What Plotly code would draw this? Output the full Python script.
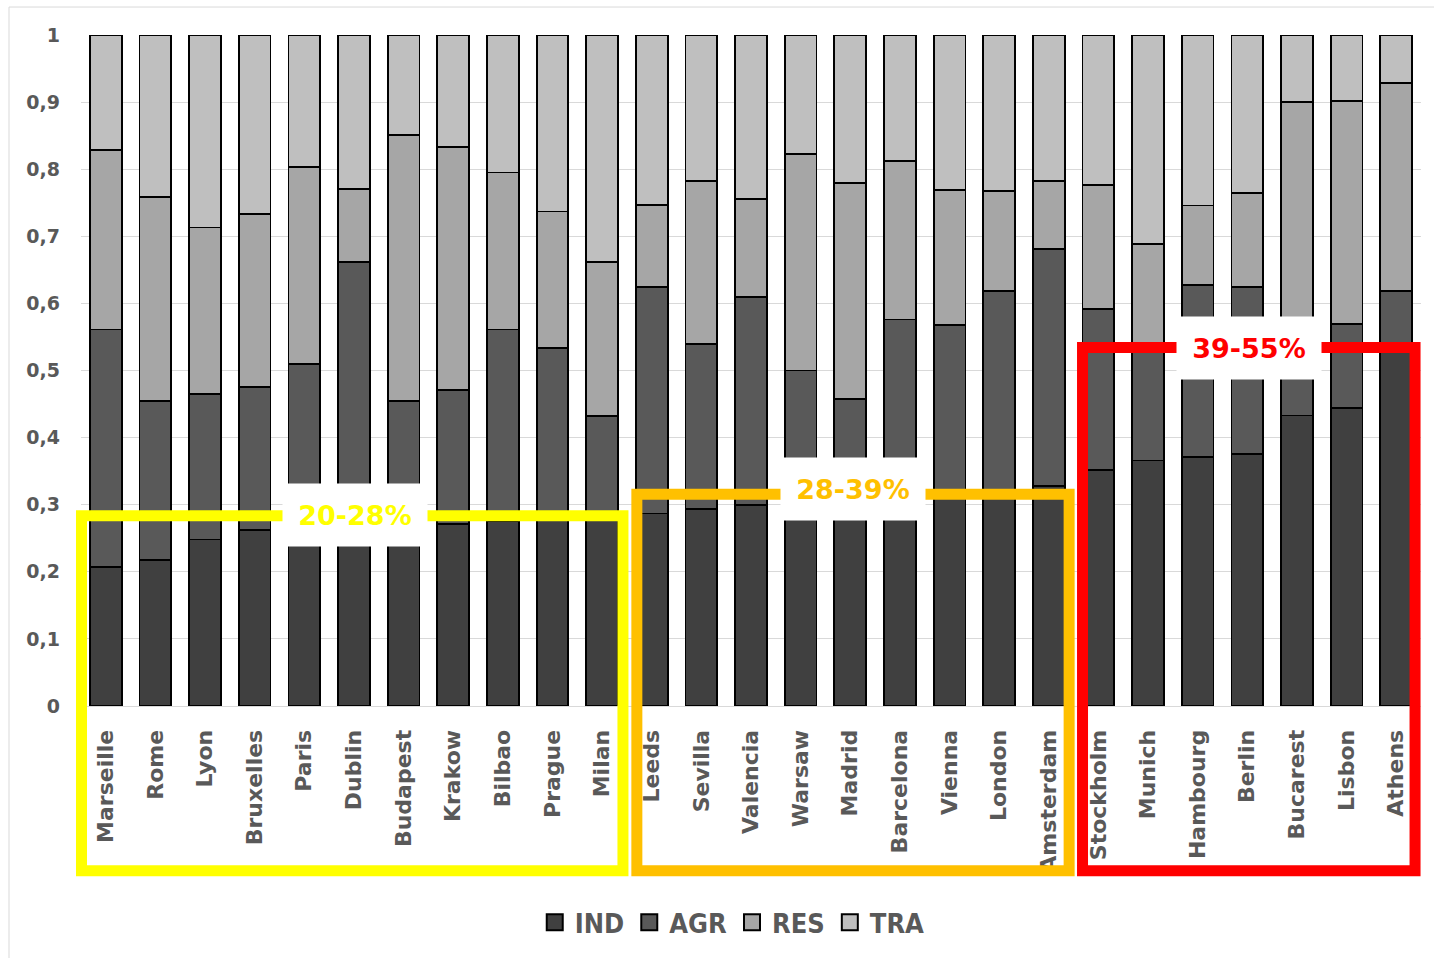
import plotly.graph_objects as go

# Cities, ordered by industry share
cities = ["Marseille", "Rome", "Lyon", "Bruxelles", "Paris", "Dublin", "Budapest",
          "Krakow", "Bilbao", "Prague", "Milan", "Leeds", "Sevilla", "Valencia",
          "Warsaw", "Madrid", "Barcelona", "Vienna", "London", "Amsterdam",
          "Stockholm", "Munich", "Hambourg", "Berlin", "Bucarest", "Lisbon", "Athens"]

# Share of each sector (stacked to 1)
ind = [0.207, 0.218, 0.248, 0.262, 0.265, 0.268, 0.270, 0.271, 0.275, 0.277, 0.280,
       0.287, 0.294, 0.299, 0.302, 0.305, 0.309, 0.313, 0.318, 0.328,
       0.352, 0.366, 0.371, 0.375, 0.433, 0.444, 0.535]
agr = [0.354, 0.237, 0.217, 0.213, 0.245, 0.394, 0.185, 0.200, 0.286, 0.257, 0.152,
       0.337, 0.246, 0.310, 0.198, 0.153, 0.267, 0.255, 0.300, 0.353,
       0.240, 0.169, 0.257, 0.250, 0.107, 0.125, 0.083]
res = [0.268, 0.303, 0.248, 0.258, 0.293, 0.109, 0.396, 0.362, 0.234, 0.203, 0.230,
       0.123, 0.243, 0.147, 0.323, 0.322, 0.236, 0.201, 0.150, 0.102,
       0.185, 0.154, 0.118, 0.139, 0.360, 0.333, 0.310]
tra = [0.171, 0.242, 0.287, 0.267, 0.197, 0.229, 0.149, 0.167, 0.205, 0.263, 0.338,
       0.253, 0.217, 0.244, 0.177, 0.220, 0.188, 0.231, 0.232, 0.217,
       0.223, 0.311, 0.254, 0.236, 0.100, 0.098, 0.072]

series_names = ["IND", "AGR", "RES", "TRA"]
series_colors = ["#404040", "#595959", "#a6a6a6", "#bfbfbf"]

# y ticks with comma decimals
y_tickvals = [0, 0.1, 0.2, 0.3, 0.4, 0.5, 0.6, 0.7, 0.8, 0.9, 1]
y_ticktext = ["0", "0,1", "0,2", "0,3", "0,4", "0,5", "0,6", "0,7", "0,8", "0,9", "1"]

# Industry-share groups: label, first/last category edge, top of frame (in y units), colour
groups = [
    ("20-28%", -0.49, 10.42, 0.2835, "#FFFF00"),
    ("28-39%", 10.70, 19.41, 0.3155, "#FFC000"),
    ("39-55%", 19.68, 26.38, 0.5342, "#FF0000"),
]
group_label_x = [0.2045, 0.5761, 0.8716]
group_label_y = [0.284, 0.3229, 0.5335]

W, H = 1434, 958
ML, MR, MT, MB = 81, 13, 35, 251
plot_w = W - ML - MR
plot_h = H - MT - MB
n = len(cities)


def cat_to_paper(c):
    return (c + 0.5) / n


fig = go.Figure()
for name, vals, col in zip(series_names, [ind, agr, res, tra], series_colors):
    fig.add_trace(go.Bar(
        x=cities, y=vals, name=name, legendgroup=name, showlegend=False,
        marker=dict(color=col, line=dict(color="#000000", width=1.8)),
    ))
# legend keys: square swatches with a black outline
for name, col in zip(series_names, series_colors):
    fig.add_trace(go.Scatter(
        x=[None], y=[None], mode="markers", name=name, legendgroup=name,
        marker=dict(symbol="square", size=20, color=col, line=dict(color="#000000", width=2)),
    ))

shapes = []
# light chart border
shapes.append(dict(type="rect", xref="paper", yref="paper",
                   x0=(9 - ML) / plot_w, x1=(W + 10 - ML) / plot_w,
                   y0=(H - MB - (H + 10)) / plot_h, y1=(H - MB - 7) / plot_h,
                   line=dict(color="#d9d9d9", width=1), layer="below"))

frame_bottom = (707 - 872) / plot_h
annotations = []
for (label, c0, c1, top, col), lx, ly in zip(groups, group_label_x, group_label_y):
    shapes.append(dict(type="rect", xref="paper", yref="paper",
                       x0=cat_to_paper(c0), x1=cat_to_paper(c1),
                       y0=frame_bottom, y1=top,
                       line=dict(color=col, width=11), layer="above"))
    annotations.append(dict(xref="paper", yref="paper", x=lx, y=ly,
                            text=f"<b>{label}</b>", showarrow=False,
                            xanchor="center", yanchor="middle",
                            bgcolor="#ffffff", width=144, height=62, borderpad=0,
                            font=dict(family="DejaVu Sans", size=27, color=col)))

fig.update_layout(
    width=W, height=H,
    barmode="stack", bargap=0.36,
    plot_bgcolor="#ffffff", paper_bgcolor="#ffffff",
    margin=dict(l=ML, r=MR, t=MT, b=MB),
    showlegend=True,
    legend=dict(orientation="h", x=0.486, xanchor="center", y=-0.321, yanchor="middle",
                traceorder="normal", itemsizing="trace",
                font=dict(family="DejaVu Sans Condensed", size=27, color="#595959",
                          weight="bold"),
                itemclick=False),
    shapes=shapes,
    annotations=annotations,
)
fig.update_xaxes(
    tickangle=-90, tickfont=dict(family="DejaVu Sans", size=22, color="#595959", weight="bold"),
    showgrid=False, showline=True, linecolor="#d9d9d9", linewidth=1,
    ticks="", ticklabelstandoff=14,
)
fig.update_yaxes(
    range=[0, 1], tickvals=y_tickvals, ticktext=y_ticktext,
    tickfont=dict(family="DejaVu Sans", size=19, color="#595959", weight="bold"),
    showgrid=True, gridcolor="#d9d9d9", gridwidth=1, zeroline=False,
    showline=False, ticks="", ticklabelstandoff=20,
)

fig.write_html("out.html")
